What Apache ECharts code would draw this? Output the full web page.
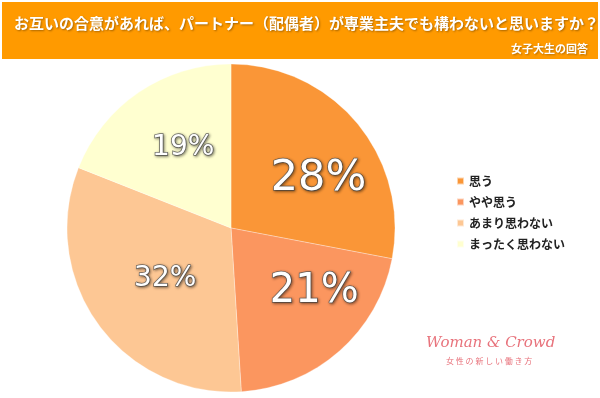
<!DOCTYPE html>
<html>
<head>
<meta charset="utf-8">
<script src="https://cdn.jsdelivr.net/npm/echarts@6/dist/echarts.min.js"></script>
<style>
  html, body { margin: 0; padding: 0; background: #fff; }
  #chart { width: 600px; height: 398px; }
</style>
</head>
<body>
<div id="chart"></div>
<script>
// 回答の選択肢
const categories = ['思う', 'やや思う', 'あまり思わない', 'まったく思わない']
// 割合(%)
const values = [28, 21, 32, 19]
const colors = ['#FA9637', '#FB965F', '#FDC794', '#FFFFD0']

const titleText = 'お互いの合意があれば、パートナー（配偶者）が専業主夫でも構わないと思いますか？'
const subText = '女子大生の回答'

const chartInstance = echarts.init(document.getElementById('chart'))

// 大きいラベル(右側2つ)と小さいラベル
const labelSize = [43, 40, 28, 28]
const labelOffset = [[22, 5], [27, 0], [3, 1], [0, -10]]

const option = {
  animation: false,
  backgroundColor: '#fff',
  graphic: [
    {
      type: 'rect',
      shape: { x: 2, y: 2, width: 596, height: 57 },
      style: { fill: '#FF9A00' },
      z: 0
    },
    {
      type: 'text',
      left: 426,
      top: 336,
      style: {
        text: 'Woman & Crowd',
        fill: '#E8737C',
        font: 'italic 15px "DejaVu Serif"'
      }
    },
    {
      type: 'text',
      left: 446,
      top: 357,
      style: {
        text: '女 性 の 新 し い 働 き 方',
        fill: '#E8737C',
        font: '8px "Noto Sans CJK JP"'
      }
    }
  ],
  title: [
    {
      text: titleText,
      left: 9,
      top: 11,
      textStyle: {
        color: '#fff',
        fontSize: 15,
        fontWeight: 'bold',
        fontFamily: 'Noto Sans CJK JP',
        textShadowColor: 'rgba(0,0,0,0.35)',
        textShadowBlur: 2,
        textShadowOffsetX: 1,
        textShadowOffsetY: 1
      }
    },
    {
      text: subText,
      right: 7,
      top: 38,
      textStyle: {
        color: '#fff',
        fontSize: 11,
        fontWeight: 'bold',
        fontFamily: 'Noto Sans CJK JP',
        textShadowColor: 'rgba(0,0,0,0.3)',
        textShadowBlur: 2,
        textShadowOffsetX: 1,
        textShadowOffsetY: 1
      }
    }
  ],
  legend: {
    orient: 'vertical',
    left: 451,
    top: 170,
    icon: 'rect',
    itemWidth: 7,
    itemHeight: 7,
    itemGap: 9,
    selectedMode: false,
    data: categories,
    textStyle: {
      color: '#222',
      fontSize: 12,
      lineHeight: 12,
      fontWeight: 'bold',
      fontFamily: 'Noto Sans CJK JP'
    }
  },
  series: [
    {
      type: 'pie',
      center: [231, 228],
      radius: 164,
      startAngle: 90,
      clockwise: true,
      itemStyle: {
        borderColor: 'rgba(255,255,255,0.6)',
        borderWidth: 0.5
      },
      emphasis: { disabled: true },
      label: {
        show: true,
        position: 'inside',
        formatter: '{c}%',
        color: '#fff',
        fontFamily: 'DejaVu Sans',
        textBorderColor: 'rgba(90,90,90,0.85)',
        textBorderWidth: 1.5,
        textShadowColor: 'rgba(0,0,0,0.45)',
        textShadowBlur: 3,
        textShadowOffsetX: 1,
        textShadowOffsetY: 1
      },
      data: categories.map((name, i) => ({
        name: name,
        value: values[i],
        itemStyle: { color: colors[i] },
        label: { fontSize: labelSize[i], offset: labelOffset[i] }
      }))
    }
  ]
}
chartInstance.setOption(option)
</script>
</body>
</html>
